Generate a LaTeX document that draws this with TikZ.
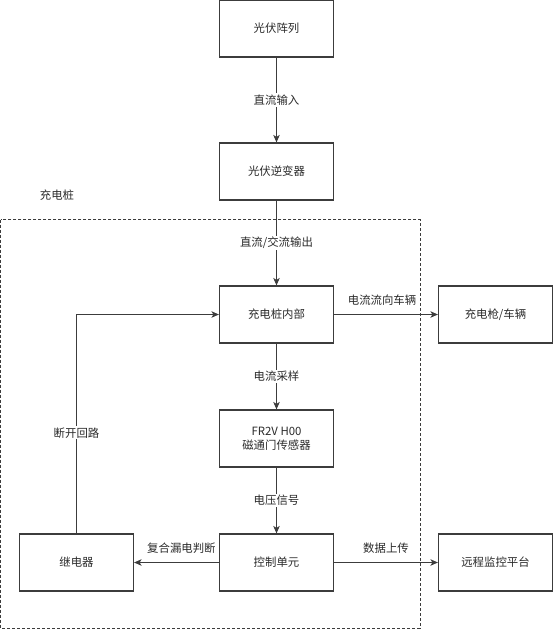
\documentclass[tikz,border=0pt]{standalone}
\usepackage{fontspec}
\setmainfont{Noto Sans CJK SC}
\usetikzlibrary{arrows.meta}
\definecolor{ln}{HTML}{3C3C3C}
\definecolor{tx}{HTML}{2A2A2A}
\tikzset{
  box/.style={draw=ln, line width=1.2pt, minimum width=114pt, minimum height=57pt,
    inner sep=0pt, align=center, text=tx, font=\fontsize{11.4}{14.3}\selectfont},
  conn/.style={draw=ln, line width=1.1pt, -{Stealth[length=7.5pt,width=6.5pt,inset=2pt]}},
  lbl/.style={fill=white, inner sep=1.5pt, text=tx, font=\fontsize{11.4}{13.7}\selectfont},
  lblup/.style={inner sep=0pt, text=tx, font=\fontsize{11.4}{13.7}\selectfont},
  frame/.style={draw=ln, line width=1pt, dash pattern=on 3pt off 2pt}
}
\begin{document}
\begin{tikzpicture}[x=1pt,y=-1pt]
\useasboundingbox (0,0) rectangle (554,630);
\draw[frame] (0.6,219.5) rectangle (420,628);
\node[lblup] (pilelbl) at (57,195) {充电桩};
\node[box] (pv) at (276.5,28.5) {光伏阵列};
\node[box] (inv) at (276.5,171.5) {光伏逆变器};
\node[box] (pile) at (276.5,314.5) {充电桩内部};
\node[box] (gun) at (495.5,314.5) {充电枪/车辆};
\node[box] (fr) at (276.5,438.5) {FR2V H00\\磁通门传感器};
\node[box] (ctrl) at (276.5,562.5) {控制单元};
\node[box] (relay) at (76.5,562.5) {继电器};
\node[box] (remote) at (495.5,562.5) {远程监控平台};
\coordinate (corner) at (relay.north |- pile.west);
\draw[conn] (pv) -- node[lbl] {直流输入} (inv);
\draw[conn] (inv) -- node[lbl] {直流/交流输出} (pile);
\draw[conn] (pile) -- node[lbl] {电流采样} (fr);
\draw[conn] (fr) -- node[lbl] {电压信号} (ctrl);
\draw[conn] (pile) -- node[lblup, pos=0.462, yshift=14.5pt] {电流流向车辆} (gun);
\draw[conn] (ctrl) -- node[lblup, pos=0.5, yshift=14.2pt] {数据上传} (remote);
\draw[conn] (ctrl) -- node[lblup, pos=0.442, yshift=14.2pt] {复合漏电判断} (relay);
\draw[conn] (relay.north) -- node[lbl, pos=0.46] {断开回路} (corner) -- (pile.west);
\end{tikzpicture}
\end{document}
